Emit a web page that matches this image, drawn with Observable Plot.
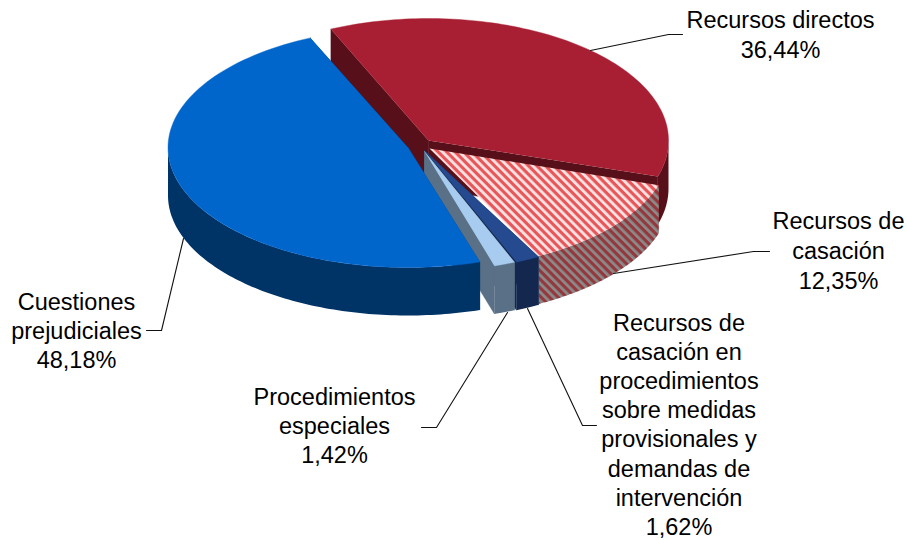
<!DOCTYPE html>
<html>
<head>
<meta charset="utf-8">
<script src="https://cdn.jsdelivr.net/npm/d3@7"></script>
<script src="https://cdn.jsdelivr.net/npm/@observablehq/plot@0.6"></script>
<style>
html,body{margin:0;padding:0;background:#fff}
svg{display:block}
</style>
</head>
<body>
<div id="chart"></div>
<script>
// Data (clockwise from the first slice)
const categories = ["Recursos directos","Recursos de casación","Recursos de casación en procedimientos sobre medidas provisionales y demandas de intervención","Procedimientos especiales","Cuestiones prejudiciales"];
const values = [36.44,12.35,1.62,1.42,48.18];
const valueLabels = ["36,44%","12,35%","1,62%","1,42%","48,18%"];
const labelLines = [
  ["Recursos directos"],
  ["Recursos de","casación"],
  ["Recursos de","casación en","procedimientos","sobre medidas","provisionales y","demandas de","intervención"],
  ["Procedimientos","especiales"],
  ["Cuestiones","prejudiciales"]
];
const topColors = ["#a81f33","url(#hatchtop)","#254a8f","#a8ccef","#0066cc"];
const sideColors = ["#571019","url(#hatchside)","#14284f","#5a7086","#003366"];

// Layout of the exploded 3D pie
const W = 907, H = 540;
const startAngle = -24, depth = 48;
const apexes = [[428,140],[429,148],[424,150],[424,151],[407.5,147]];
const centers = [[428,140],[419.5,149],[424,149],[422,149],[407.5,147]];
const radii = [[240,122],[250,121],[240,122],[240,122],[240,120]];
const labelAnchors = [[780,20],[838,221],[678.5,323],[334,397],[76,302]];
const lineStep = [30,30,29.1,29,29];
const leaders = [
  [[590,50],[668,34],[682,34]],
  [[613,273],[753,251],[769,251]],
  [[527,308],[582,425],[596,425]],
  [[507,312],[436,427],[421,427]],
  [[183,238],[161,330],[146,330]]
];

const total = d3.sum(values);
let acc = startAngle;
const slices = values.map((v,i)=>{
  const a0 = acc, a1 = acc + v/total*360; acc = a1;
  const [cx,cy] = centers[i], [rx,ry] = radii[i], [ax,ay] = apexes[i];
  const pt = (a,dz=0)=>{const t=a*Math.PI/180;return {x:cx+rx*Math.sin(t),y:cy-ry*Math.cos(t)+dz};};
  const arc = (dz=0)=>d3.range(0,101).map(k=>pt(a0+(a1-a0)*k/100,dz));
  return {i,a0,a1,ax,ay,pt,arc};
});
const poly = (pts,fill)=>Plot.line(pts,{x:"x",y:"y",fill,stroke:"none",curve:"linear"});
const seam = (pts,fill)=>Plot.line(pts,{x:"x",y:"y",fill,stroke:fill,strokeWidth:0.4,curve:"linear"});

function sliceMarks(s){
  const side = sideColors[s.i], top = topColors[s.i];
  const apex = {x:s.ax,y:s.ay}, apexLow = {x:s.ax,y:s.ay+depth};
  const out = [];
  const startEdge = s.pt(s.a0), startLow = s.pt(s.a0,depth);
  const endEdge = s.pt(s.a1), endLow = s.pt(s.a1,depth);
  // radial walls
  if(s.i!==1){
    out.push(seam([apex,apexLow,startLow,startEdge],side));
    out.push(seam([apex,apexLow,endLow,endEdge],side));
  }
  // outer wall: only the front half faces the viewer
  const lo = Math.max(s.a0,90), hi = Math.min(s.a1,270);
  if(hi>lo){
    const t = d3.range(0,101).map(k=>lo+(hi-lo)*k/100);
    const upper = t.map(a=>s.pt(a)), lower = t.map(a=>s.pt(a,depth)).reverse();
    out.push(poly(upper.concat(lower),side));
  }
  out.push(s.i===1 ? poly([apex,...s.arc()],top) : seam([apex,...s.arc()],top));
  return out;
}
const leaderData = leaders.flatMap((l,i)=>l.map(p=>({x:p[0],y:p[1],i})));
const textData = labelLines.flatMap((lines,i)=>{
  const [x,y] = labelAnchors[i];
  return [...lines,valueLabels[i]].map((t,k)=>({t,x,y:y+k*lineStep[i]}));
});
const plot = Plot.plot({
  width:W,height:H,margin:0,
  x:{domain:[0,W],range:[0,W],axis:null},
  y:{domain:[0,H],range:[0,H],axis:null},
  style:{background:"#fff",fontFamily:"'Liberation Sans',Arial,sans-serif"},
  marks:[
    ...slices.flatMap(sliceMarks),
    Plot.line(leaderData,{x:"x",y:"y",z:"i",stroke:"#111",strokeWidth:1.1,curve:"linear"}),
    Plot.text(textData,{x:"x",y:"y",text:"t",fontSize:23.5,fill:"#000",textAnchor:"middle",lineAnchor:"middle"})
  ]
});
const ns="http://www.w3.org/2000/svg";
const defs=document.createElementNS(ns,"defs");
defs.innerHTML=`
<pattern id="hatchtop" patternUnits="userSpaceOnUse" width="6" height="6" patternTransform="rotate(45)">
  <rect width="6" height="6" fill="#fbe6e6"/><rect width="6" height="3.2" fill="#e8565a"/></pattern>
<pattern id="hatchside" patternUnits="userSpaceOnUse" width="6" height="6" patternTransform="rotate(45)">
  <rect width="6" height="6" fill="#8c8a8a"/><rect width="6" height="3.2" fill="#93383c"/></pattern>`;
plot.insertBefore(defs,plot.firstChild);
document.getElementById("chart").appendChild(plot);
</script>
</body>
</html>
